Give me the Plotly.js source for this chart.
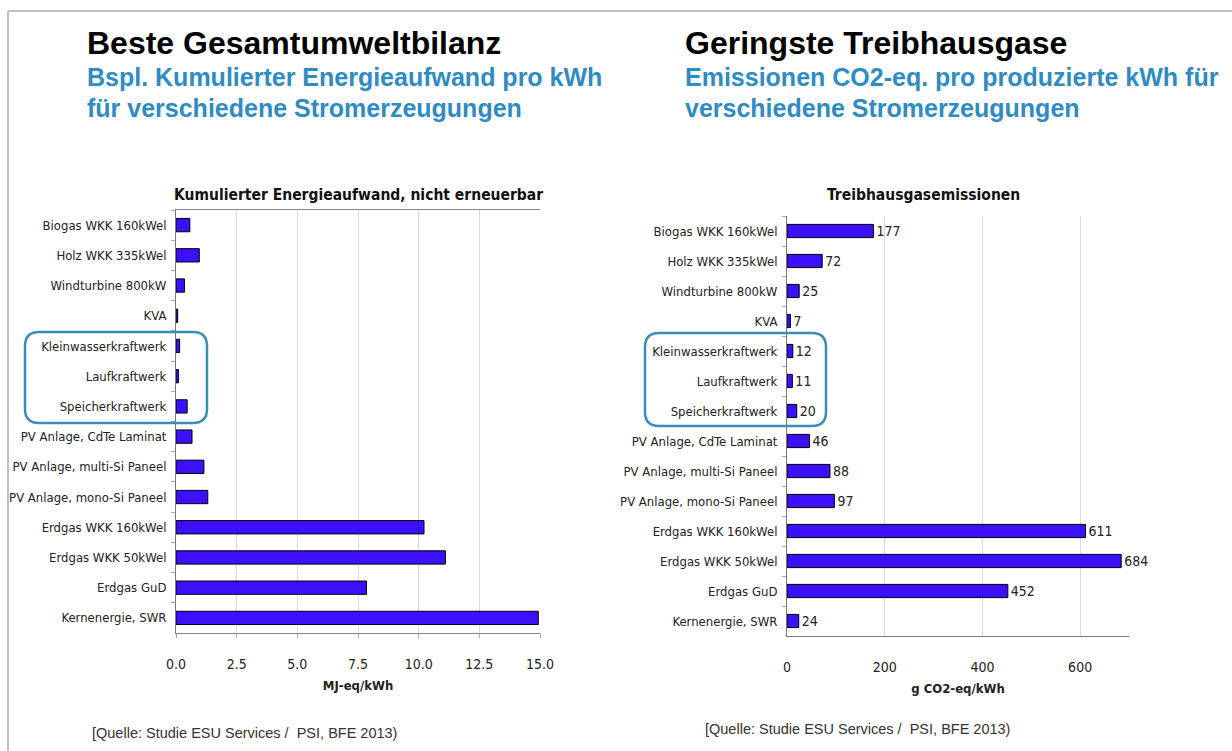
<!DOCTYPE html>
<html>
<head>
<meta charset="utf-8">
<script src="https://cdn.plot.ly/plotly-3.0.1.min.js"></script>
<style>
html,body{margin:0;padding:0;background:#fff;}
#chart{width:1232px;height:751px;}
</style>
</head>
<body>
<div id="chart"></div>
<script>
// ---- data ----
const categories = [
  "Biogas WKK 160kWel",
  "Holz WKK 335kWel",
  "Windturbine 800kW",
  "KVA",
  "Kleinwasserkraftwerk",
  "Laufkraftwerk",
  "Speicherkraftwerk",
  "PV Anlage, CdTe Laminat",
  "PV Anlage, multi-Si Paneel",
  "PV Anlage, mono-Si Paneel",
  "Erdgas WKK 160kWel",
  "Erdgas WKK 50kWel",
  "Erdgas GuD",
  "Kernenergie, SWR"
];
const energyValues = [0.57, 0.96, 0.35, 0.07, 0.15, 0.10, 0.46, 0.66, 1.15, 1.31, 10.22, 11.10, 7.85, 14.93];
const ghgValues = [177, 72, 25, 7, 12, 11, 20, 46, 88, 97, 611, 684, 452, 24];
const energyTicks = [0, 2.5, 5, 7.5, 10, 12.5, 15];
const energyTickLabels = ["0.0", "2.5", "5.0", "7.5", "10.0", "12.5", "15.0"];
const ghgTicks = [0, 200, 400, 600];
const ghgTickLabels = ["0", "200", "400", "600"];

// ---- layout helpers (pixel -> paper) ----
const W = 1232, H = 751;
const px = x => x / W;
const py = y => 1 - y / H;

const NARROW = "'Liberation Sans Narrow', 'DejaVu Sans Condensed', 'Arial Narrow', sans-serif";
const ARIAL = "'Liberation Sans', Arial, sans-serif";
const BAR = "#3a10ff";
const BLUE = "#2f8bc3";
const LBL = 13;

const traces = [
  {
    type: "bar", orientation: "h",
    y: categories, x: energyValues,
    xaxis: "x", yaxis: "y",
    marker: {color: BAR, line: {color: "#000", width: 1}},
    hoverinfo: "x+y"
  },
  {
    type: "bar", orientation: "h",
    y: categories, x: ghgValues,
    xaxis: "x2", yaxis: "y2",
    text: ghgValues.map(String),
    textposition: "outside",
    constraintext: "none",
    cliponaxis: false,
    textfont: {family: NARROW, size: 14, color: "#222"},
    marker: {color: BAR, line: {color: "#000", width: 1}},
    hoverinfo: "x+y"
  }
];

function roundRect(x0, y0, x1, y1, r) {
  const X = v => px(v), Y = v => py(v);
  return "M" + X(x0 + r) + "," + Y(y0) +
    " L" + X(x1 - r) + "," + Y(y0) +
    " Q" + X(x1) + "," + Y(y0) + " " + X(x1) + "," + Y(y0 + r) +
    " L" + X(x1) + "," + Y(y1 - r) +
    " Q" + X(x1) + "," + Y(y1) + " " + X(x1 - r) + "," + Y(y1) +
    " L" + X(x0 + r) + "," + Y(y1) +
    " Q" + X(x0) + "," + Y(y1) + " " + X(x0) + "," + Y(y1 - r) +
    " L" + X(x0) + "," + Y(y0 + r) +
    " Q" + X(x0) + "," + Y(y0) + " " + X(x0 + r) + "," + Y(y0) + " Z";
}

const yCommon = {
  type: "category",
  autorange: "reversed",
  showgrid: false,
  showline: true,
  linecolor: "#777",
  linewidth: 1,
  ticks: "outside",
  tickson: "boundaries",
  ticklen: 4,
  tickcolor: "#aaa",
  tickfont: {family: NARROW, size: LBL, color: "#222"},
  ticklabelstandoff: 6,
  fixedrange: true
};

const layout = {
  width: W, height: H,
  margin: {l: 0, r: 0, t: 0, b: 0, pad: 0},
  paper_bgcolor: "#fff",
  plot_bgcolor: "#fff",
  showlegend: false,
  bargap: 0.56,
  xaxis: {
    domain: [px(176), px(540)],
    anchor: "y",
    range: [0, 15],
    tickvals: energyTicks, ticktext: energyTickLabels,
    showgrid: true, gridcolor: "#d9d9d9", gridwidth: 1,
    showline: true, linecolor: "#888", linewidth: 1,
    mirror: true,
    ticks: "outside", ticklen: 4, tickcolor: "#aaa",
    tickfont: {family: NARROW, size: 14, color: "#222"},
    ticklabelstandoff: 14,
    zeroline: false,
    title: {text: "<b>MJ-eq/kWh</b>", font: {family: NARROW, size: 13, color: "#222"}, standoff: 10},
    fixedrange: true
  },
  yaxis: Object.assign({}, yCommon, {
    domain: [py(633), py(210)],
    anchor: "x"
  }),
  xaxis2: {
    domain: [px(787), px(1129)],
    anchor: "y2",
    range: [0, 700],
    tickvals: ghgTicks, ticktext: ghgTickLabels,
    showgrid: true, gridcolor: "#d9d9d9", gridwidth: 1,
    showline: true, linecolor: "#777", linewidth: 1,
    ticks: "",
    tickfont: {family: NARROW, size: 14, color: "#222"},
    ticklabelstandoff: 18,
    zeroline: false,
    title: {text: "<b>g CO2-eq/kWh</b>", font: {family: NARROW, size: 13, color: "#222"}, standoff: 10},
    fixedrange: true
  },
  yaxis2: Object.assign({}, yCommon, {
    domain: [py(636), py(216)],
    anchor: "x2"
  }),
  shapes: [
    // slide frame
    {type: "line", xref: "paper", yref: "paper", x0: px(8), x1: px(1232), y0: py(11), y1: py(11),
     line: {color: "#c0c0c0", width: 2}},
    {type: "line", xref: "paper", yref: "paper", x0: px(8), x1: px(8), y0: py(11), y1: py(751),
     line: {color: "#c0c0c0", width: 2}},
    // highlight boxes
    {type: "path", xref: "paper", yref: "paper", path: roundRect(25, 332, 207, 423, 14),
     line: {color: "#3a8db5", width: 2.5}, fillcolor: "rgba(0,0,0,0)"},
    {type: "path", xref: "paper", yref: "paper", path: roundRect(645, 333, 826, 426, 14),
     line: {color: "#3a8db5", width: 2.5}, fillcolor: "rgba(0,0,0,0)"}
  ],
  annotations: [
    {text: "<b>Beste Gesamtumweltbilanz</b>", xref: "paper", yref: "paper", x: px(85), y: py(43),
     xanchor: "left", yanchor: "middle", showarrow: false, font: {family: ARIAL, size: 32, color: "#000"}},
    {text: "<b>Bspl. Kumulierter Energieaufwand pro kWh</b>", xref: "paper", yref: "paper", x: px(85), y: py(77),
     xanchor: "left", yanchor: "middle", showarrow: false, font: {family: ARIAL, size: 25, color: BLUE}},
    {text: "<b>für verschiedene Stromerzeugungen</b>", xref: "paper", yref: "paper", x: px(85), y: py(108),
     xanchor: "left", yanchor: "middle", showarrow: false, font: {family: ARIAL, size: 25, color: BLUE}},
    {text: "<b>Geringste Treibhausgase</b>", xref: "paper", yref: "paper", x: px(683), y: py(43),
     xanchor: "left", yanchor: "middle", showarrow: false, font: {family: ARIAL, size: 32, color: "#000"}},
    {text: "<b>Emissionen CO2-eq. pro produzierte kWh für</b>", xref: "paper", yref: "paper", x: px(683), y: py(77),
     xanchor: "left", yanchor: "middle", showarrow: false, font: {family: ARIAL, size: 25, color: BLUE}},
    {text: "<b>verschiedene Stromerzeugungen</b>", xref: "paper", yref: "paper", x: px(683), y: py(108),
     xanchor: "left", yanchor: "middle", showarrow: false, font: {family: ARIAL, size: 25, color: BLUE}},
    // chart titles
    {text: "<b>Kumulierter Energieaufwand, nicht erneuerbar</b>", xref: "paper", yref: "paper", x: px(358), y: py(195),
     xanchor: "center", yanchor: "middle", showarrow: false, font: {family: NARROW, size: 15.5, color: "#111"}},
    {text: "<b>Treibhausgasemissionen</b>", xref: "paper", yref: "paper", x: px(923), y: py(195),
     xanchor: "center", yanchor: "middle", showarrow: false, font: {family: NARROW, size: 15.5, color: "#111"}},
    // sources
    {text: "[Quelle: Studie ESU Services / \u00a0PSI, BFE 2013)", xref: "paper", yref: "paper", x: px(90), y: py(733),
     xanchor: "left", yanchor: "middle", showarrow: false, font: {family: ARIAL, size: 14.5, color: "#333"}},
    {text: "[Quelle: Studie ESU Services / \u00a0PSI, BFE 2013)", xref: "paper", yref: "paper", x: px(703), y: py(729),
     xanchor: "left", yanchor: "middle", showarrow: false, font: {family: ARIAL, size: 14.5, color: "#333"}}
  ]
};

Plotly.newPlot("chart", traces, layout, {displayModeBar: false});
</script>
</body>
</html>
